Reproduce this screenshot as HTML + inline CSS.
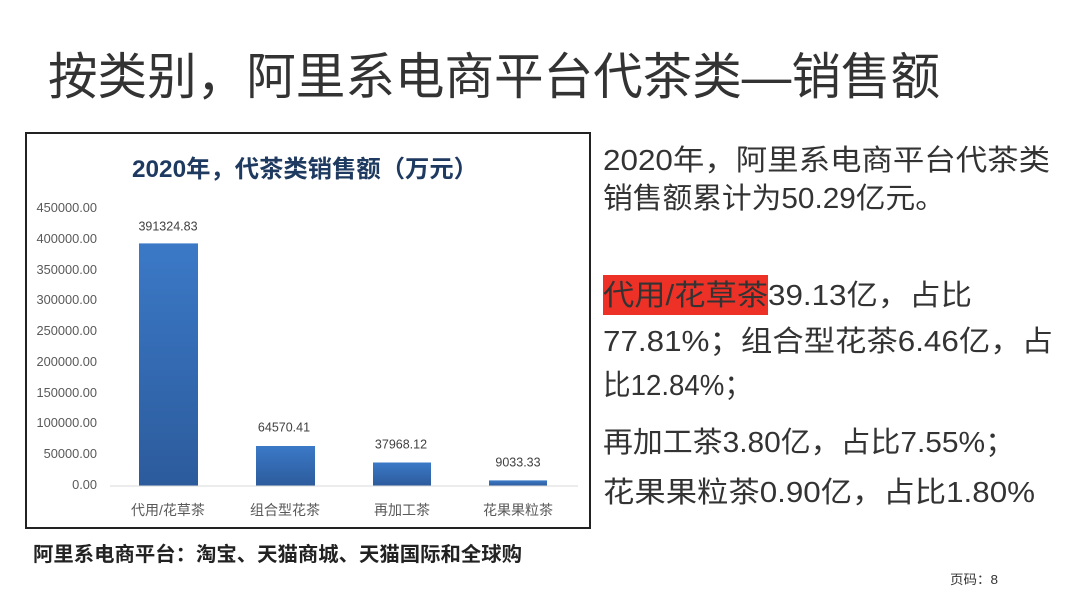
<!DOCTYPE html>
<html><head><meta charset="utf-8">
<style>
html,body{margin:0;padding:0;background:#fff;}
svg{display:block;}
text{font-family:"Liberation Sans","Noto Sans CJK SC",sans-serif;}
</style></head>
<body>
<svg width="1080" height="607" viewBox="0 0 1080 607" xmlns="http://www.w3.org/2000/svg">
<defs>
<linearGradient id="g" x1="0" y1="0" x2="0" y2="1">
<stop offset="0" stop-color="#3b79c7"/>
<stop offset="1" stop-color="#2c5b9c"/>
</linearGradient>
</defs>
<rect width="1080" height="607" fill="#fff"/>
<!-- Main title -->
<text x="48" y="94" font-size="50" fill="#333" textLength="892" lengthAdjust="spacingAndGlyphs">按类别，阿里系电商平台代茶类—销售额</text>

<!-- Chart box -->
<rect x="26" y="133" width="564" height="395" fill="#fff" stroke="#222" stroke-width="2"/>
<text x="132" y="177" font-size="24" font-weight="bold" fill="#1f3a60" textLength="346" lengthAdjust="spacingAndGlyphs">2020年，代茶类销售额（万元）</text>

<!-- y tick labels -->
<g font-size="12.8" fill="#595959" text-anchor="end">
<text x="97" y="212">450000.00</text>
<text x="97" y="243">400000.00</text>
<text x="97" y="274">350000.00</text>
<text x="97" y="304">300000.00</text>
<text x="97" y="335">250000.00</text>
<text x="97" y="366">200000.00</text>
<text x="97" y="397">150000.00</text>
<text x="97" y="427">100000.00</text>
<text x="97" y="458">50000.00</text>
<text x="97" y="489">0.00</text>
</g>

<!-- bars -->
<rect x="139" y="243.4" width="59" height="242.6" fill="url(#g)"/>
<rect x="256" y="446" width="59" height="40" fill="url(#g)"/>
<rect x="373" y="462.5" width="58" height="23.5" fill="url(#g)"/>
<rect x="489" y="480.4" width="58" height="5.6" fill="url(#g)"/>
<line x1="110" y1="486" x2="578" y2="486" stroke="#d9d9d9" stroke-width="1"/>

<!-- value labels -->
<g font-size="12.5" fill="#404040" text-anchor="middle">
<text x="168" y="230.5">391324.83</text>
<text x="284" y="431.5">64570.41</text>
<text x="401" y="448.5">37968.12</text>
<text x="518" y="466.5">9033.33</text>
</g>

<!-- category labels -->
<g font-size="14" fill="#595959" text-anchor="middle">
<text x="168" y="515">代用/花草茶</text>
<text x="285" y="515">组合型花茶</text>
<text x="402" y="515">再加工茶</text>
<text x="518" y="515">花果果粒茶</text>
</g>

<!-- Right text -->
<g font-size="29" fill="#333">
<text x="603" y="170" textLength="447" lengthAdjust="spacingAndGlyphs">2020年，阿里系电商平台代茶类</text>
<text x="603" y="208" textLength="342" lengthAdjust="spacingAndGlyphs">销售额累计为50.29亿元。</text>
<rect x="603" y="275" width="165" height="40" fill="#ee3127"/>
<text x="603" y="305" textLength="165" lengthAdjust="spacingAndGlyphs">代用/花草茶</text>
<text x="768" y="305" textLength="204" lengthAdjust="spacingAndGlyphs">39.13亿，占比</text>
<text x="603" y="351" textLength="450" lengthAdjust="spacingAndGlyphs">77.81%；组合型花茶6.46亿，占</text>
<text x="603" y="395" textLength="149" lengthAdjust="spacingAndGlyphs">比12.84%；</text>
<text x="603" y="452" textLength="412" lengthAdjust="spacingAndGlyphs">再加工茶3.80亿，占比7.55%；</text>
<text x="603" y="502" textLength="432" lengthAdjust="spacingAndGlyphs">花果果粒茶0.90亿，占比1.80%</text>
</g>

<!-- footer -->
<text x="33" y="561" font-size="20" font-weight="bold" fill="#222" textLength="489" lengthAdjust="spacingAndGlyphs">阿里系电商平台：淘宝、天猫商城、天猫国际和全球购</text>
<text x="950" y="584" font-size="13" fill="#333" textLength="48" lengthAdjust="spacingAndGlyphs">页码：8</text>
</svg>
</body></html>
